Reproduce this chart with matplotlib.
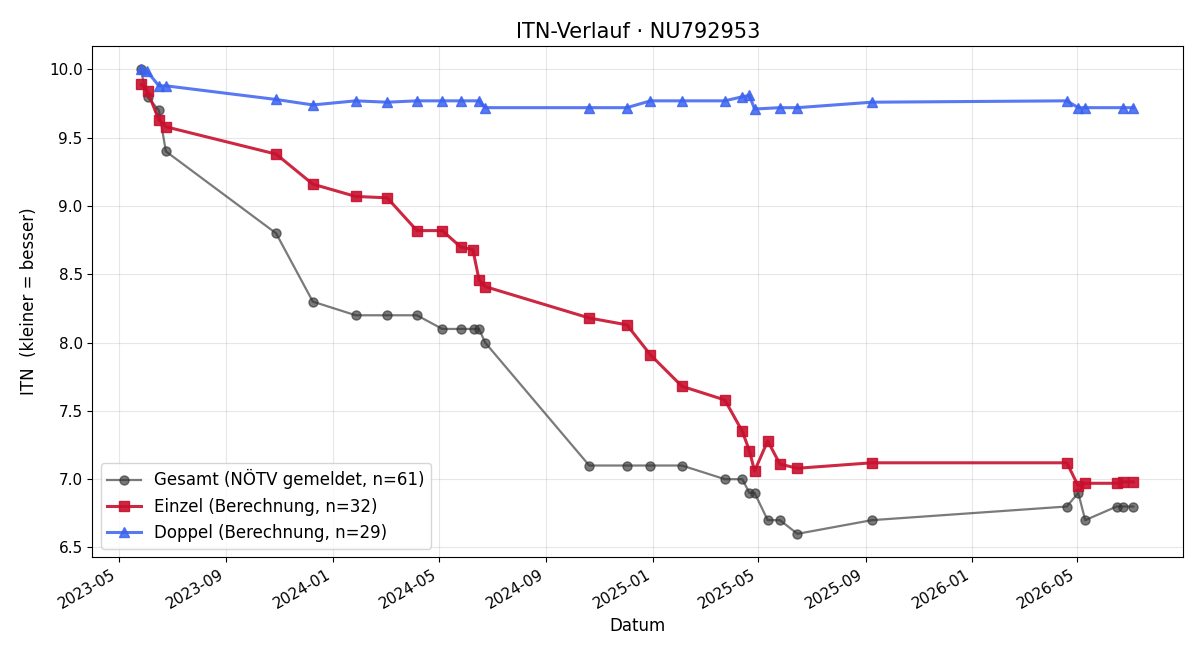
import matplotlib
matplotlib.use("Agg")
import matplotlib.pyplot as plt
import matplotlib.dates as mdates
import pandas as pd

gesamt_dates = ["2023-05-26", "2023-06-03", "2023-06-16", "2023-06-24", "2023-10-28",
                "2023-12-09", "2024-01-27", "2024-03-03", "2024-04-06", "2024-05-05",
                "2024-05-26", "2024-06-10", "2024-06-16", "2024-06-23", "2024-10-20",
                "2024-12-02", "2024-12-29", "2025-02-03", "2025-03-24", "2025-04-13",
                "2025-04-21", "2025-04-27", "2025-05-12", "2025-05-26", "2025-06-15",
                "2025-09-08", "2026-04-19", "2026-05-02", "2026-05-10", "2026-06-15",
                "2026-06-22", "2026-07-04"]
gesamt_vals = [10.0, 9.8, 9.7, 9.4, 8.8, 8.3, 8.2, 8.2, 8.2, 8.1,
               8.1, 8.1, 8.1, 8.0, 7.1, 7.1, 7.1, 7.1, 7.0, 7.0,
               6.9, 6.9, 6.7, 6.7, 6.6, 6.7, 6.8, 6.9, 6.7, 6.8,
               6.8, 6.8]

einzel_dates = ["2023-05-27", "2023-06-03", "2023-06-16", "2023-06-24", "2023-10-28",
                "2023-12-09", "2024-01-27", "2024-03-03", "2024-04-06", "2024-05-05",
                "2024-05-26", "2024-06-09", "2024-06-16", "2024-06-23", "2024-10-20",
                "2024-12-02", "2024-12-29", "2025-02-03", "2025-03-24", "2025-04-13",
                "2025-04-21", "2025-04-27", "2025-05-12", "2025-05-26", "2025-06-15",
                "2025-09-08", "2026-04-19", "2026-05-02", "2026-05-10", "2026-06-15",
                "2026-06-22", "2026-07-04"]
einzel_vals = [9.89, 9.84, 9.63, 9.58, 9.38, 9.16, 9.07, 9.06, 8.82, 8.82,
               8.70, 8.68, 8.46, 8.41, 8.18, 8.13, 7.91, 7.68, 7.58, 7.35,
               7.21, 7.06, 7.28, 7.11, 7.08, 7.12, 7.12, 6.95, 6.97, 6.97,
               6.98, 6.98]

doppel_dates = ["2023-05-26", "2023-06-02", "2023-06-16", "2023-06-24", "2023-10-28",
                "2023-12-09", "2024-01-27", "2024-03-03", "2024-04-06", "2024-05-05",
                "2024-05-26", "2024-06-16", "2024-06-23", "2024-10-20", "2024-12-02",
                "2024-12-29", "2025-02-03", "2025-03-24", "2025-04-13", "2025-04-21",
                "2025-04-27", "2025-05-26", "2025-06-15", "2025-09-08", "2026-04-19",
                "2026-05-02", "2026-05-10", "2026-06-22", "2026-07-04"]
doppel_vals = [10.0, 9.99, 9.88, 9.88, 9.78, 9.74, 9.77, 9.76, 9.77, 9.77,
               9.77, 9.77, 9.72, 9.72, 9.72, 9.77, 9.77, 9.77, 9.80, 9.81,
               9.71, 9.72, 9.72, 9.76, 9.77, 9.72, 9.72, 9.72, 9.72]

x_range = ["2023-04-01", "2026-08-30"]

fig, ax = plt.subplots(figsize=(12, 6.6), dpi=100)

ax.plot(pd.to_datetime(gesamt_dates), gesamt_vals, marker="o", markersize=6.5,
        linewidth=1.6, color="#333333", alpha=0.65,
        label="Gesamt (NÖTV gemeldet, n=61)")
ax.plot(pd.to_datetime(einzel_dates), einzel_vals, marker="s", markersize=7,
        linewidth=2.2, color="#c8102e", alpha=0.9,
        label="Einzel (Berechnung, n=32)")
ax.plot(pd.to_datetime(doppel_dates), doppel_vals, marker="^", markersize=7,
        linewidth=2.2, color="#3b62f0", alpha=0.85,
        label="Doppel (Berechnung, n=29)")

ax.set_xlim(pd.to_datetime(x_range[0]), pd.to_datetime(x_range[1]))
ax.set_title("ITN-Verlauf · NU792953", fontsize=15)
ax.set_xlabel("Datum", fontsize=12)
ax.set_ylabel("ITN  (kleiner = besser)", fontsize=12, labelpad=8)
ax.grid(True, alpha=0.3)
ax.xaxis.set_major_locator(mdates.MonthLocator(bymonth=[1, 5, 9]))
ax.xaxis.set_major_formatter(mdates.DateFormatter("%Y-%m"))
ax.tick_params(labelsize=11)
ax.legend(loc="lower left", fontsize=12)
fig.autofmt_xdate()
fig.subplots_adjust(left=0.077, right=0.986, top=0.93, bottom=0.156)
fig.savefig("out.png", dpi=100)
